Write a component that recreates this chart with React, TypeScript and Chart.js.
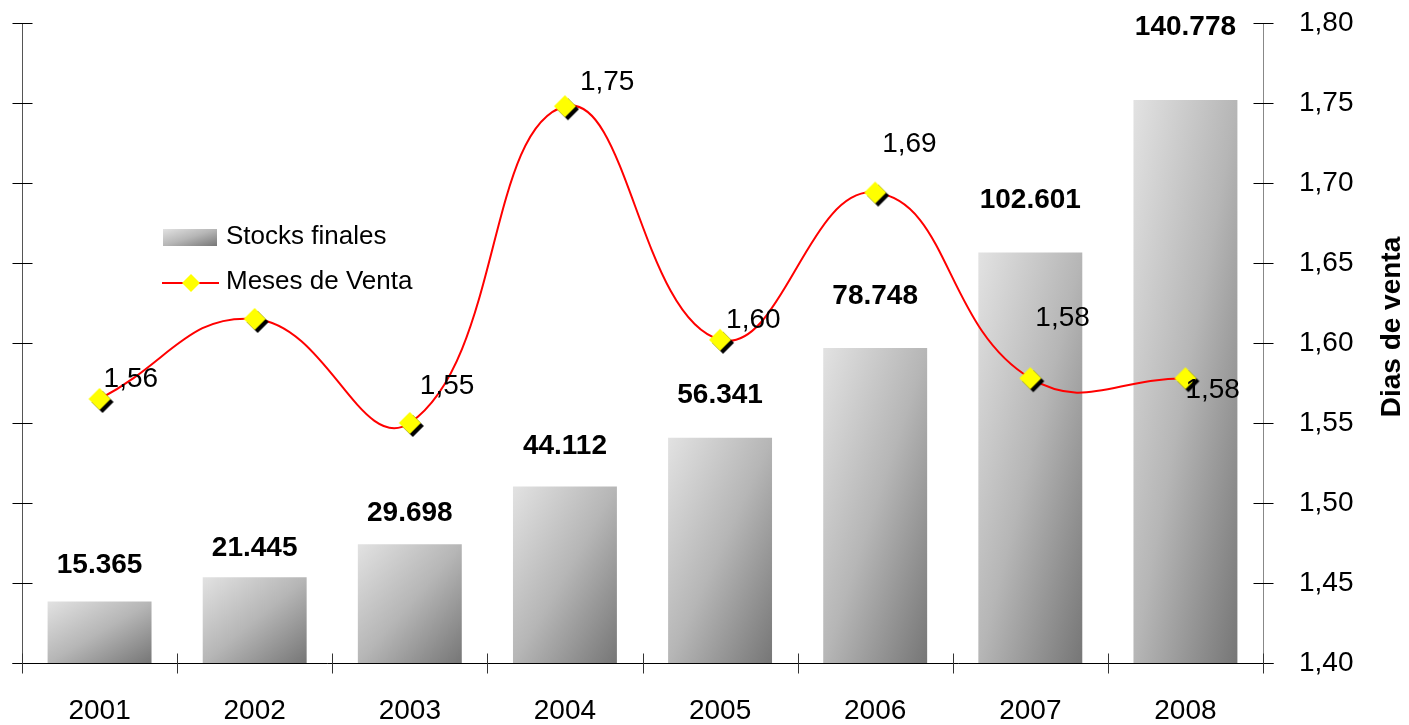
import React, { useEffect, useRef } from 'react';
import { Chart, registerables } from 'chart.js';

Chart.register(...registerables);

// ---- data ----
const years = ['2001', '2002', '2003', '2004', '2005', '2006', '2007', '2008'];
const stocksFinales = [15365, 21445, 29698, 44112, 56341, 78748, 102601, 140778];
const stocksLabels = ['15.365', '21.445', '29.698', '44.112', '56.341', '78.748', '102.601', '140.778'];
const mesesDeVenta = [1.565, 1.615, 1.55, 1.748, 1.602, 1.694, 1.578, 1.578];
const mesesLabels = ['1,56', '', '1,55', '1,75', '1,60', '1,69', '1,58', '1,58'];

// ---- label placement (style) ----
const barLabelDy = [-36, -29, -31, -40, -42, -52, -52, -73];
const lineLabelOffsets: [number, number][] = [
  [4, -20], [0, 0], [10, -37], [15, -24], [6, -20], [7, -48], [5, -60], [0, 12],
];

const FONT = "'Liberation Sans', Arial, sans-serif";

function diagGradient(ctx: CanvasRenderingContext2D, x: number, y: number, w: number, h: number) {
  if (![x, y, w, h].every((v) => Number.isFinite(v)) || w <= 0 || h <= 0) return '#b0b0b0';
  const d = h * h + w * w;
  const s = (2 * w * h) / d;
  const g = ctx.createLinearGradient(x, y, x + s * h, y + s * w);
  g.addColorStop(0, '#e2e2e2');
  g.addColorStop(0.5, '#b6b6b6');
  g.addColorStop(1, '#767676');
  return g;
}

function makeDiamond(shadow: boolean, half: number) {
  const off = shadow ? 3 : 0;
  const size = 2 * (half + off + 1);
  const c = document.createElement('canvas');
  c.width = size;
  c.height = size;
  const g = c.getContext('2d')!;
  const cx = size / 2;
  const draw = (ox: number, oy: number, color: string) => {
    g.beginPath();
    g.moveTo(cx + ox, cx + oy - half);
    g.lineTo(cx + ox + half, cx + oy);
    g.lineTo(cx + ox, cx + oy + half);
    g.lineTo(cx + ox - half, cx + oy);
    g.closePath();
    g.fillStyle = color;
    g.fill();
  };
  if (shadow) draw(off, off, '#000000');
  draw(0, 0, '#ffff00');
  return c;
}

const overlayPlugin = {
  id: 'overlay',
  afterDatasetsDraw(chart: any) {
    const { ctx, chartArea: a, scales } = chart;
    ctx.save();
    ctx.lineWidth = 1;
    const L = Math.round(a.left) + 0.5;
    const R = Math.round(a.right) + 0.5;
    const B = Math.round(a.bottom) + 0.5;
    const seg = (x1: number, y1: number, x2: number, y2: number, c: string) => {
      ctx.strokeStyle = c;
      ctx.beginPath();
      ctx.moveTo(x1, y1);
      ctx.lineTo(x2, y2);
      ctx.stroke();
    };
    seg(L, a.top, L, a.bottom, '#555555');
    scales.y.ticks.forEach((t: any) => {
      const y = Math.round(scales.y.getPixelForValue(t.value)) + 0.5;
      seg(L - 10, y, L + 10, y, '#000000');
    });
    seg(R, a.top, R, a.bottom, '#888888');
    scales.yR.ticks.forEach((t: any) => {
      const y = Math.round(scales.yR.getPixelForValue(t.value)) + 0.5;
      seg(R - 10, y, R + 10, y, '#000000');
    });
    seg(L - 10, B, R + 10, B, '#000000');
    const n = years.length;
    for (let i = 0; i <= n; i++) {
      const x = Math.round(a.left + (i * a.width) / n) + 0.5;
      seg(x, B - 10, x, B + 10, '#333333');
    }
    ctx.restore();
  },
  afterDraw(chart: any) {
    const { ctx, chartArea: a } = chart;
    ctx.save();
    const barMeta = chart.getDatasetMeta(0);
    ctx.fillStyle = '#000000';
    ctx.font = `bold 28px ${FONT}`;
    ctx.textAlign = 'center';
    ctx.textBaseline = 'middle';
    barMeta.data.forEach((el: any, i: number) => {
      ctx.fillText(stocksLabels[i], el.x, el.y + barLabelDy[i]);
    });
    const lineMeta = chart.getDatasetMeta(1);
    ctx.font = `28px ${FONT}`;
    ctx.textAlign = 'left';
    lineMeta.data.forEach((el: any, i: number) => {
      if (!mesesLabels[i]) return;
      const [dx, dy] = lineLabelOffsets[i];
      ctx.fillText(mesesLabels[i], el.x + dx, el.y + dy);
    });
    const lx = a.left + 141;
    const ly = a.top + 206;
    ctx.fillStyle = diagGradient(ctx, lx, ly, 54, 17);
    ctx.fillRect(lx, ly, 54, 17);
    ctx.strokeStyle = '#ff0000';
    ctx.lineWidth = 2;
    ctx.beginPath();
    ctx.moveTo(lx - 1, ly + 54);
    ctx.lineTo(lx + 56, ly + 54);
    ctx.stroke();
    const dm = makeDiamond(false, 9);
    ctx.drawImage(dm, lx + 28 - dm.width / 2, ly + 54 - dm.height / 2);
    ctx.fillStyle = '#000000';
    ctx.font = `26px ${FONT}`;
    ctx.textAlign = 'left';
    ctx.textBaseline = 'middle';
    ctx.fillText('Stocks finales', lx + 63, ly + 8);
    ctx.fillText('Meses de Venta', lx + 63, ly + 53);
    ctx.save();
    ctx.translate(1392, 327);
    ctx.rotate(-Math.PI / 2);
    ctx.font = `bold 28px ${FONT}`;
    ctx.textAlign = 'center';
    ctx.textBaseline = 'middle';
    ctx.fillText('Dias de venta', 0, 0);
    ctx.restore();
    ctx.restore();
  },
};

export default function App() {
  const ref = useRef<HTMLCanvasElement | null>(null);
  useEffect(() => {
    document.body.style.margin = '0';
    const canvas = ref.current!;
    const diamond = makeDiamond(true, 11);
    const chart = new Chart(canvas, {
      type: 'bar',
      data: {
        labels: years,
        datasets: [
          {
            type: 'bar',
            label: 'Stocks finales',
            data: stocksFinales,
            yAxisID: 'y',
            order: 2,
            barPercentage: 0.67,
            categoryPercentage: 1,
            borderWidth: 0,
            backgroundColor: (c: any) => {
              const chart = c.chart;
              const { ctx, scales, chartArea } = chart;
              if (c.type !== 'data' || !chartArea || !scales.x || !scales.y) return '#b0b0b0';
              const xs = scales.x;
              const ys = scales.y;
              const cx = xs.getPixelForValue(c.dataIndex);
              const w = (xs.width / years.length) * 0.67;
              const top = ys.getPixelForValue(c.raw);
              const bottom = ys.getPixelForValue(0);
              return diagGradient(ctx, cx - w / 2, top, w, bottom - top);
            },
          } as any,
          {
            type: 'line',
            label: 'Meses de Venta',
            data: mesesDeVenta,
            yAxisID: 'yR',
            order: 1,
            borderColor: '#ff0000',
            borderWidth: 2,
            tension: 0.45,
            pointStyle: diamond as any,
            pointRadius: 12,
            fill: false,
          } as any,
        ],
      },
      options: {
        responsive: false,
        maintainAspectRatio: false,
        animation: false,
        devicePixelRatio: 1,
        layout: { padding: { top: 23, left: 0, right: 0, bottom: 0 } },
        plugins: {
          legend: { display: false },
          tooltip: { enabled: false },
          title: { display: false },
        },
        scales: {
          x: {
            grid: { display: false, drawTicks: false },
            border: { display: false },
            ticks: {
              color: '#000000',
              font: { family: FONT, size: 28 },
              padding: 31,
              maxRotation: 0,
            },
            afterFit: (s: any) => {
              s.height = 62;
              s.paddingLeft = 0;
              s.paddingRight = 0;
            },
          },
          y: {
            position: 'left',
            min: 0,
            max: 160000,
            grid: { display: false, drawTicks: false },
            border: { display: false },
            ticks: { display: false, stepSize: 20000 },
            afterFit: (s: any) => {
              s.width = 22;
              s.paddingTop = 0;
              s.paddingBottom = 0;
            },
          },
          yR: {
            position: 'right',
            min: 1.4,
            max: 1.8,
            grid: { display: false, drawTicks: false },
            border: { display: false },
            ticks: {
              stepSize: 0.05,
              color: '#000000',
              padding: 36,
              font: { family: FONT, size: 28 },
              callback: (v: any) => Number(v).toFixed(2).replace('.', ','),
            },
            afterFit: (s: any) => {
              s.width = 146;
              s.paddingTop = 0;
              s.paddingBottom = 0;
            },
          },
        },
      },
      plugins: [overlayPlugin],
    });
    return () => chart.destroy();
  }, []);
  return (
    <div style={{ position: 'absolute', left: 0, top: 0, width: 1409, height: 725, background: '#ffffff' }}>
      <canvas ref={ref} width={1409} height={725} style={{ display: 'block' }} />
    </div>
  );
}
